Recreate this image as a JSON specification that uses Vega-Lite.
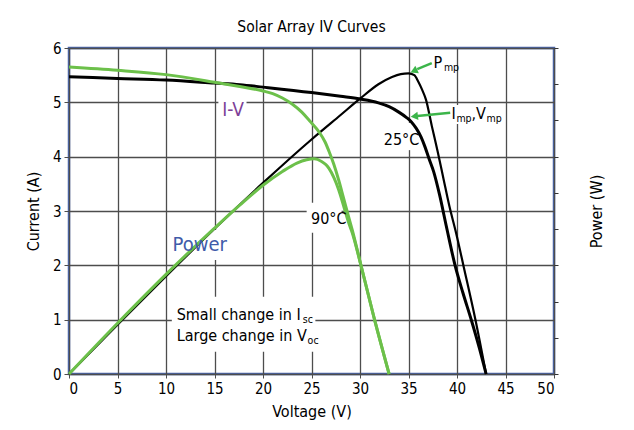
{
  "$schema": "https://vega.github.io/schema/vega-lite/v6.json",
  "width": 485,
  "height": 326,
  "autosize": {"type": "none"},
  "padding": {"left": 69, "top": 48, "right": 80, "bottom": 56},
  "title": {"text": "Solar Array IV Curves", "fontSize": 15.5, "fontWeight": "normal", "font": "DejaVu Sans Condensed, sans-serif", "offset": 6, "color": "black"},
  "datasets": {
    "iv25": [
      {"V": 0, "I": 5.47}, {"V": 5, "I": 5.44}, {"V": 10, "I": 5.41}, {"V": 15, "I": 5.355}, {"V": 17.6, "I": 5.325}, {"V": 20, "I": 5.28}, {"V": 25, "I": 5.18}, {"V": 28, "I": 5.11}, {"V": 30, "I": 5.06}, {"V": 31.9, "I": 4.99}, {"V": 33, "I": 4.92}, {"V": 34, "I": 4.82}, {"V": 34.8, "I": 4.72}, {"V": 35.3, "I": 4.64}, {"V": 35.8, "I": 4.52}, {"V": 36.3, "I": 4.36}, {"V": 36.7, "I": 4.18}, {"V": 37.1, "I": 3.97}, {"V": 37.6, "I": 3.72}, {"V": 38.2, "I": 3.3}, {"V": 38.9, "I": 2.72}, {"V": 39.8, "I": 2.0}, {"V": 40.6, "I": 1.5}, {"V": 41.5, "I": 0.98}, {"V": 42.3, "I": 0.48}, {"V": 43, "I": 0}
    ],
    "iv90": [
      {"V": 0, "I": 5.65}, {"V": 5, "I": 5.59}, {"V": 10, "I": 5.51}, {"V": 15, "I": 5.37}, {"V": 17.6, "I": 5.29}, {"V": 20, "I": 5.21}, {"V": 21, "I": 5.16}, {"V": 22, "I": 5.08}, {"V": 23, "I": 4.97}, {"V": 24, "I": 4.82}, {"V": 24.8, "I": 4.66}, {"V": 25.8, "I": 4.45}, {"V": 26.4, "I": 4.27}, {"V": 26.8, "I": 4.1}, {"V": 27.3, "I": 3.86}, {"V": 27.8, "I": 3.57}, {"V": 28.3, "I": 3.24}, {"V": 28.8, "I": 2.91}, {"V": 29.2, "I": 2.65}, {"V": 30.1, "I": 2.0}, {"V": 31.5, "I": 1.0}, {"V": 33.0, "I": 0}
    ],
    "p25": [
      {"V": 0, "P": 0}, {"V": 5, "P": 27.2}, {"V": 10, "P": 54}, {"V": 15, "P": 80.2}, {"V": 20, "P": 105.5}, {"V": 25, "P": 129.5}, {"V": 28, "P": 143}, {"V": 30, "P": 152}, {"V": 31.9, "P": 160}, {"V": 33.3, "P": 164}, {"V": 34.2, "P": 165.6}, {"V": 35, "P": 166}, {"V": 35.6, "P": 165}, {"V": 36.0, "P": 161.5}, {"V": 36.4, "P": 157}, {"V": 36.8, "P": 151.5}, {"V": 37.4, "P": 137}, {"V": 38.0, "P": 123}, {"V": 38.6, "P": 108}, {"V": 39.2, "P": 93}, {"V": 39.9, "P": 78}, {"V": 40.7, "P": 59}, {"V": 41.9, "P": 30}, {"V": 43, "P": 0}
    ],
    "p90": [
      {"V": 0, "P": 0}, {"V": 5, "P": 28}, {"V": 10, "P": 55}, {"V": 15, "P": 80.5}, {"V": 17.6, "P": 93.2}, {"V": 20, "P": 104.2}, {"V": 22, "P": 111.8}, {"V": 23.5, "P": 116.5}, {"V": 24.5, "P": 118.3}, {"V": 25.3, "P": 118.8}, {"V": 26, "P": 117.5}, {"V": 26.5, "P": 115.5}, {"V": 26.8, "P": 113.5}, {"V": 27.3, "P": 108.5}, {"V": 27.8, "P": 101.7}, {"V": 28.3, "P": 93}, {"V": 28.8, "P": 84}, {"V": 29.2, "P": 78}, {"V": 30.1, "P": 60}, {"V": 31.5, "P": 30}, {"V": 33, "P": 0}
    ],
    "boxes": [
      {"V": 10.6, "V2": 25.4, "I": 0.41, "I2": 1.42},
      {"V": 24.5, "V2": 28.1, "I": 2.6, "I2": 3.15},
      {"V": 32.3, "V2": 35.5, "I": 4.12, "I2": 4.62},
      {"V": 10.3, "V2": 16.0, "I": 2.1, "I2": 2.65},
      {"V": 15.4, "V2": 18.3, "I": 4.7, "I2": 5.05},
      {"V": 39.2, "V2": 44.8, "I": 4.6, "I2": 4.95}
    ],
    "arrows": [
      {"a": "p", "V": 37.4, "I": 5.72}, {"a": "p", "V": 35.9, "I": 5.61},
      {"a": "i", "V": 39.3, "I": 4.81}, {"a": "i", "V": 35.9, "I": 4.747}
    ],
    "heads": [
      {"a": "p", "V": 35.55, "I": 5.575},
      {"a": "i", "V": 35.6, "I": 4.742}
    ],
    "labels": [
      {"g": "main", "t": "Small change in I", "V": 11.1, "I": 1.09},
      {"g": "main", "t": "Large change in V", "V": 11.1, "I": 0.70},
      {"g": "main", "t": "90°C", "V": 24.95, "I": 2.85},
      {"g": "main", "t": "25°C", "V": 32.45, "I": 4.31},
      {"g": "main", "t": "P", "V": 37.58, "I": 5.73},
      {"g": "main", "t": "I", "V": 39.43, "I": 4.79},
      {"g": "main", "t": ",V", "V": 41.5, "I": 4.79},
      {"g": "sub", "t": "sc", "V": 24.1, "I": 0.99},
      {"g": "sub", "t": "oc", "V": 24.6, "I": 0.61},
      {"g": "sub", "t": "mp", "V": 38.65, "I": 5.64},
      {"g": "sub", "t": "mp", "V": 39.94, "I": 4.7},
      {"g": "sub", "t": "mp", "V": 43.05, "I": 4.7}
    ],
    "callouts": [
      {"g": "iv", "t": "I-V", "V": 15.8, "I": 4.86},
      {"g": "pw", "t": "Power", "V": 10.68, "I": 2.38}
    ]
  },
  "encoding": {
    "x": {
      "field": "V", "type": "quantitative",
      "scale": {"domain": [0, 50], "nice": false, "zero": false},
      "axis": {"values": [0, 5, 10, 15, 20, 25, 30, 35, 40, 45, 50], "title": "Voltage (V)", "titlePadding": 7, "labelPadding": 3, "tickSize": 4}
    }
  },
  "layer": [
    {
      "data": {"name": "boxes"},
      "mark": {"type": "rect", "fill": "white", "stroke": null},
      "encoding": {
        "x2": {"field": "V2"},
        "y": {"field": "I", "type": "quantitative", "scale": {"domain": [0, 6], "nice": false}, "axis": {"orient": "left", "values": [0, 1, 2, 3, 4, 5, 6], "title": "Current (A)", "titlePadding": 11, "labelPadding": 3, "tickSize": 5}},
        "y2": {"field": "I2"}
      }
    },
    {
      "data": {"name": "iv25"},
      "mark": {"type": "line", "color": "black", "strokeWidth": 3, "interpolate": "monotone"},
      "encoding": {"y": {"field": "I", "type": "quantitative", "scale": {"domain": [0, 6], "nice": false}, "axis": null}}
    },
    {
      "data": {"name": "p25"},
      "mark": {"type": "line", "color": "black", "strokeWidth": 2.2, "interpolate": "monotone"},
      "encoding": {"y": {"field": "P", "type": "quantitative", "scale": {"domain": [0, 180], "nice": false}, "axis": {"orient": "right", "values": [0, 20, 40, 60, 80, 100, 120, 140, 160, 180], "labels": false, "grid": false, "tickSize": 4, "tickColor": "#333", "title": "Power (W)", "titleAngle": 270, "titlePadding": 46}}}
    },
    {
      "data": {"name": "iv90"},
      "mark": {"type": "line", "color": "#6cc04a", "strokeWidth": 3, "interpolate": "monotone"},
      "encoding": {"y": {"field": "I", "type": "quantitative", "scale": {"domain": [0, 6], "nice": false}, "axis": null}}
    },
    {
      "data": {"name": "p90"},
      "mark": {"type": "line", "color": "#6cc04a", "strokeWidth": 3, "interpolate": "monotone"},
      "encoding": {"y": {"field": "P", "type": "quantitative", "scale": {"domain": [0, 180], "nice": false}, "axis": null}}
    },
    {
      "data": {"name": "arrows"},
      "mark": {"type": "line", "color": "#3cb54a", "strokeWidth": 2.5},
      "encoding": {"detail": {"field": "a"}, "y": {"field": "I", "type": "quantitative", "scale": {"domain": [0, 6], "nice": false}, "axis": null}}
    },
    {
      "data": {"name": "heads"},
      "transform": [{"filter": "datum.a == 'p'"}],
      "mark": {"type": "point", "shape": "triangle-left", "filled": true, "color": "#3cb54a", "size": 70, "angle": 335, "opacity": 1},
      "encoding": {"y": {"field": "I", "type": "quantitative", "scale": {"domain": [0, 6], "nice": false}, "axis": null}}
    },
    {
      "data": {"name": "heads"},
      "transform": [{"filter": "datum.a == 'i'"}],
      "mark": {"type": "point", "shape": "triangle-left", "filled": true, "color": "#3cb54a", "size": 70, "angle": 353, "opacity": 1},
      "encoding": {"y": {"field": "I", "type": "quantitative", "scale": {"domain": [0, 6], "nice": false}, "axis": null}}
    },
    {
      "data": {"name": "labels"},
      "transform": [{"filter": "datum.g == 'main'"}],
      "mark": {"type": "text", "align": "left", "baseline": "middle", "fontSize": 16, "color": "black", "font": "DejaVu Sans Condensed, sans-serif"},
      "encoding": {"text": {"field": "t"}, "y": {"field": "I", "type": "quantitative", "scale": {"domain": [0, 6], "nice": false}, "axis": null}}
    },
    {
      "data": {"name": "labels"},
      "transform": [{"filter": "datum.g == 'sub'"}],
      "mark": {"type": "text", "align": "left", "baseline": "middle", "fontSize": 10.5, "color": "black", "font": "DejaVu Sans Condensed, sans-serif"},
      "encoding": {"text": {"field": "t"}, "y": {"field": "I", "type": "quantitative", "scale": {"domain": [0, 6], "nice": false}, "axis": null}}
    },
    {
      "data": {"name": "callouts"},
      "transform": [{"filter": "datum.g == 'iv'"}],
      "mark": {"type": "text", "align": "left", "baseline": "middle", "fontSize": 19, "color": "#7d3f98", "font": "DejaVu Sans Condensed, sans-serif"},
      "encoding": {"text": {"field": "t"}, "y": {"field": "I", "type": "quantitative", "scale": {"domain": [0, 6], "nice": false}, "axis": null}}
    },
    {
      "data": {"name": "callouts"},
      "transform": [{"filter": "datum.g == 'pw'"}],
      "mark": {"type": "text", "align": "left", "baseline": "middle", "fontSize": 20, "color": "#3f5ba9", "font": "DejaVu Sans Condensed, sans-serif"},
      "encoding": {"text": {"field": "t"}, "y": {"field": "I", "type": "quantitative", "scale": {"domain": [0, 6], "nice": false}, "axis": null}}
    }
  ],
  "resolve": {"scale": {"y": "independent"}},
  "config": {
    "view": {"stroke": "#4a66ac", "strokeWidth": 2.5},
    "font": "DejaVu Sans Condensed, sans-serif",
    "axis": {
      "domain": false,
      "grid": true,
      "gridColor": "#4d4d4d",
      "gridWidth": 1.3,
      "gridOpacity": 1,
      "tickColor": "#4d4d4d",
      "labelFont": "DejaVu Sans Condensed, sans-serif",
      "labelFontSize": 15,
      "labelColor": "black",
      "titleFont": "DejaVu Sans Condensed, sans-serif",
      "titleFontSize": 16,
      "titleFontWeight": "normal",
      "titleColor": "black"
    }
  }
}
